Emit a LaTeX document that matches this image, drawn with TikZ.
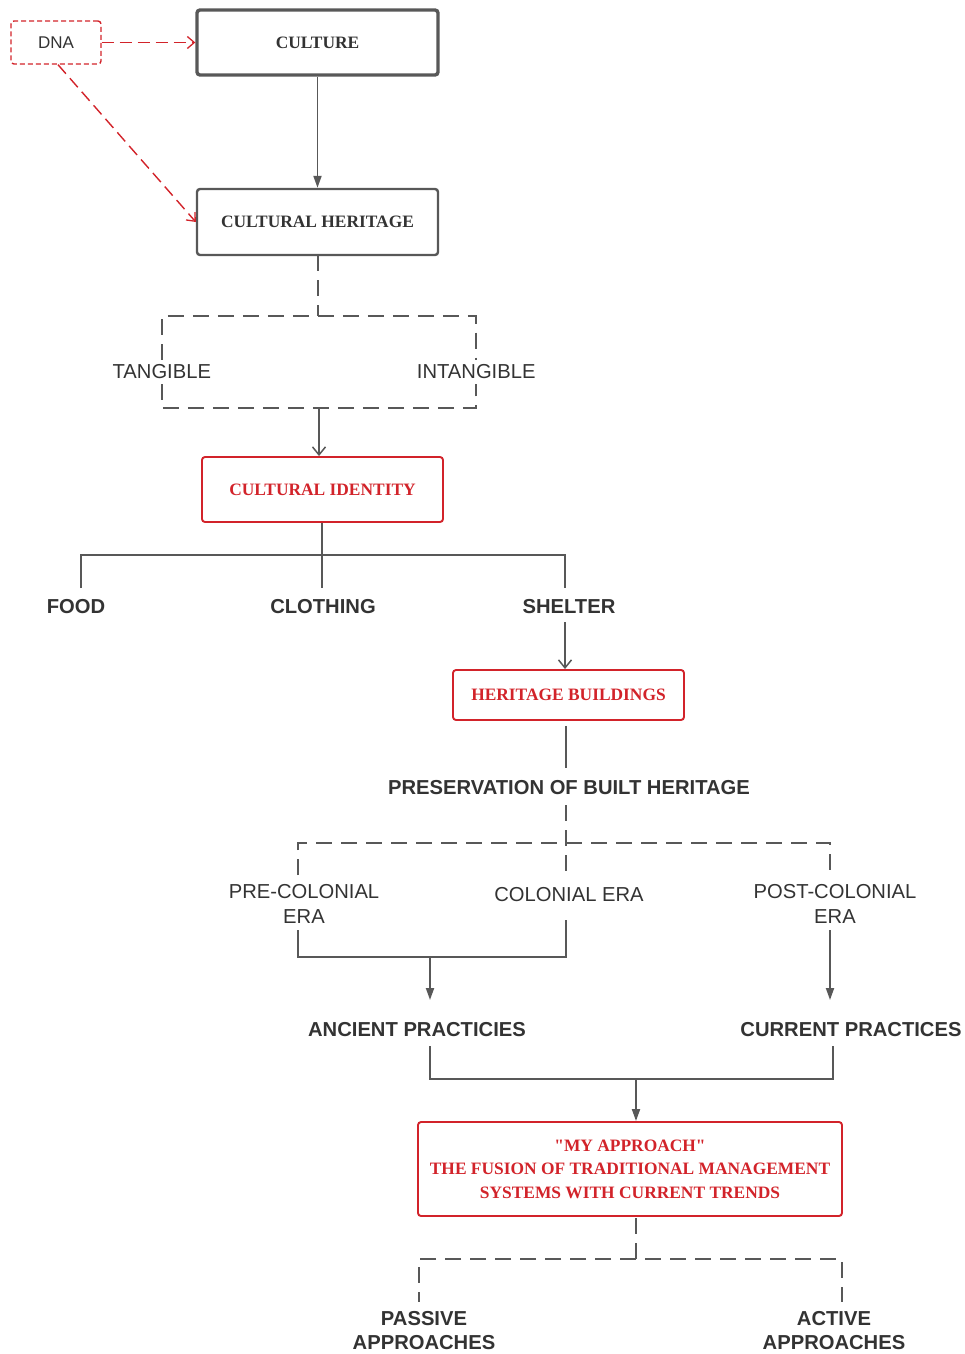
\documentclass[tikz,border=0pt]{standalone}
\usepackage{fontspec}
\setmainfont{Liberation Serif}[Ligatures=TeXOff]
\setsansfont{Liberation Sans}
\usetikzlibrary{arrows.meta}

\definecolor{lineg}{HTML}{585858}
\definecolor{textg}{HTML}{333333}
\definecolor{hred}{HTML}{D2232A}

\tikzset{
  conn/.style={draw=lineg, line width=1.9pt},
  gdash/.style={conn, dash pattern=on 16pt off 9pt},
  rdash/.style={draw=hred, line width=1.4pt, dash pattern=on 12pt off 6pt},
  filltip/.style={-{Triangle[length=12pt,width=8pt]}},
  opentip/.style={-{Straight Barb[length=8pt,width=13pt,line width=1.5pt]}},
  redtip/.style={-{Straight Barb[length=7pt,width=12pt,line width=1.3pt]}},
  serifbox/.style={rounded corners=3pt, inner sep=0pt, align=center,
    font=\bfseries\fontsize{17.4}{23.5}\selectfont},
  greybox/.style={serifbox, draw=lineg, text=textg},
  redbox/.style={serifbox, draw=hred, line width=1.9pt, text=hred},
  blabel/.style={inner sep=0pt, align=center, text=textg,
    font=\sffamily\bfseries\fontsize{20.2}{24}\selectfont},
  rlabel/.style={inner sep=0pt, align=center, text=textg,
    font=\sffamily\fontsize{20.2}{25}\selectfont},
}

\begin{document}
\begin{tikzpicture}[x=1pt, y=-1pt]
\useasboundingbox (0,0) rectangle (965,1354);

% ---- boxes ----
\node[draw=hred, line width=1.4pt, dash pattern=on 5pt off 3pt, rounded corners=3pt,
      minimum width=90pt, minimum height=43pt, inner sep=0pt, text=textg,
      font=\sffamily\fontsize{17}{20}\selectfont] (dna) at (56,42.5) {DNA};
\node[greybox, line width=3.4pt, minimum width=241pt, minimum height=65pt] (culture) at (317.5,42.5) {CULTURE};
\node[greybox, line width=2.4pt, minimum width=241pt, minimum height=66pt] (heritage) at (317.5,222) {CULTURAL HERITAGE};

% frame holding the two kinds of heritage; its sides stop at the labels
\node[minimum width=314pt, minimum height=92pt, inner sep=0pt] (kinds) at (319,362) {};
\node[rlabel, inner sep=5pt] (tangible) at ([yshift=-10pt]kinds.west) {TANGIBLE};
\node[rlabel, inner sep=5pt] (intangible) at ([yshift=-10pt]kinds.east) {INTANGIBLE};
\draw[gdash] (tangible.north -| kinds.west) |- (kinds.north east) -- (intangible.north -| kinds.east);
\draw[gdash] (tangible.south -| kinds.west) |- (kinds.south east) -- (intangible.south -| kinds.east);

\node[redbox, minimum width=241pt, minimum height=65pt] (identity) at (322.5,489.5) {CULTURAL IDENTITY};

\node[blabel] (food) at (76,607) {FOOD};
\node[blabel] (clothing) at (323,607) {CLOTHING};
\node[blabel] (shelter) at (569,607) {SHELTER};

\node[redbox, minimum width=231pt, minimum height=50pt] (buildings) at (568.5,695) {HERITAGE BUILDINGS};
\node[blabel] (preservation) at (569,788) {PRESERVATION OF BUILT HERITAGE};

\node[rlabel] (precol) at (304,903.5) {PRE-COLONIAL\\ERA};
\node[rlabel] (colonial) at (569,895) {COLONIAL ERA};
\node[rlabel] (postcol) at (835,903.5) {POST-COLONIAL\\ERA};

\node[blabel] (ancient) at (417,1030) {ANCIENT PRACTICIES};
\node[blabel] (current) at (851,1030) {CURRENT PRACTICES};

\node[redbox, minimum width=424pt, minimum height=94pt] (approach) at (630,1169)
  {"MY APPROACH"\\THE FUSION OF TRADITIONAL MANAGEMENT\\SYSTEMS WITH CURRENT TRENDS};

\node[blabel] (passive) at (424,1331) {PASSIVE\\APPROACHES};
\node[blabel] (active) at (834,1331) {ACTIVE\\APPROACHES};

% ---- junction points ----
\coordinate (herdown) at (318,255);
\coordinate (idj) at (322,555);
\coordinate (foodtop) at (81,588);
\coordinate (clothtop) at (322,588);
\coordinate (sheltop) at (565,588);
\coordinate (shelbot) at (565,622);
\coordinate (prestop) at (566,768);
\coordinate (presbot) at (566,805);
\coordinate (erabar) at (566,843);
\coordinate (colend) at (566,875);
\coordinate (preend) at (298,875);
\coordinate (postend) at (830,875);
\coordinate (prebot) at (298,930);
\coordinate (colbot) at (566,920);
\coordinate (ancj) at (430,957);
\coordinate (ancend) at (430,1000);
\coordinate (postbot) at (830,930);
\coordinate (curend) at (830,1000);
\coordinate (ancbot) at (430,1046);
\coordinate (curbot) at (833,1046);
\coordinate (mergej) at (636,1079);
\coordinate (appbot) at (636,1218);
\coordinate (splitj) at (636,1259);
\coordinate (passend) at (419,1302);
\coordinate (actend) at (842,1302);

% ---- connectors ----
\draw[rdash, redtip] (dna.east) -- (culture.west);
\draw[rdash, redtip] ([xshift=2pt]dna.south) -- (heritage.west);
\draw[conn, filltip] (culture.south) -- (heritage.north);
\draw[gdash] (herdown) -- (herdown |- kinds.north);
\draw[conn, opentip] (kinds.south) -- (kinds.south |- identity.north);

\draw[conn] (clothtop |- identity.south) -- (clothtop);
\draw[conn] (foodtop) |- (idj) -| (sheltop);
\draw[conn, opentip] (shelbot) -- (shelbot |- buildings.north);

\draw[conn, shorten <=5pt] (buildings.south -| prestop) -- (prestop);
\draw[gdash] (presbot) -- (colend);
\draw[gdash] (preend) |- (erabar) -| (postend);

\draw[conn] (prebot) |- (ancj) -| (colbot);
\draw[conn, filltip] (ancj) -- (ancend);
\draw[conn, filltip] (postbot) -- (curend);

\draw[conn] (ancbot) |- (mergej) -| (curbot);
\draw[conn, filltip] (mergej) -- (mergej |- approach.north);

\draw[gdash] (appbot) -- (splitj) -| (actend);
\draw[gdash] (splitj) -| (passend);
\end{tikzpicture}
\end{document}
